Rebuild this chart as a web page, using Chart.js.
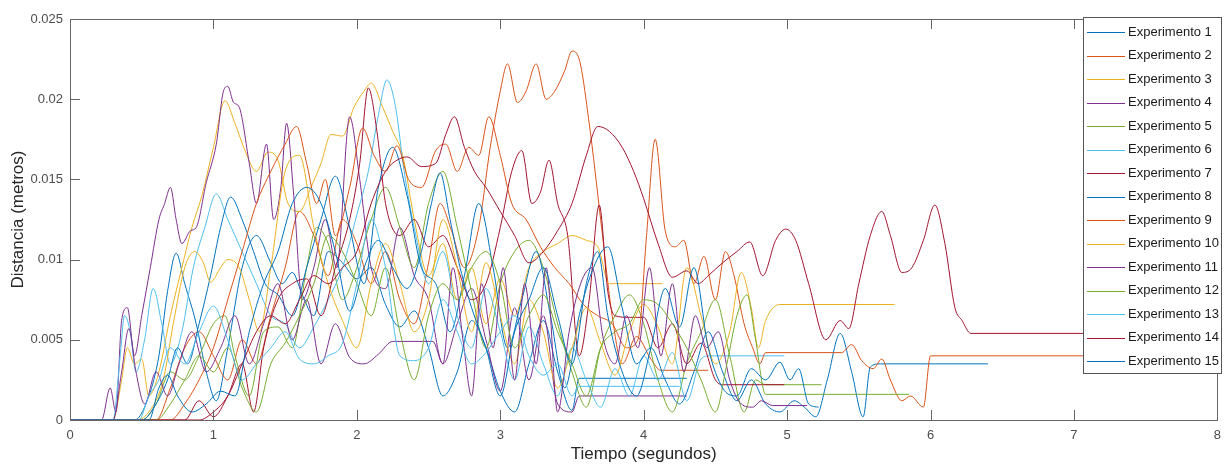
<!DOCTYPE html>
<html>
<head>
<meta charset="utf-8">
<script src="https://cdn.jsdelivr.net/npm/chart.js@4.4.0/dist/chart.umd.min.js"></script>
<style>
  html, body { margin: 0; padding: 0; background: #fff; }
  #wrap { width: 1229px; height: 467px; }
</style>
</head>
<body>
<div id="wrap"><canvas id="myChart" width="1229" height="467"></canvas></div>
<script>
// datos (tiempo en s, distancia en m)
const tiempo1 = [0, 0.45, 0.55, 0.62, 0.68, 0.74, 0.8, 0.88, 0.95, 1.02, 1.1, 1.2, 1.3, 1.4, 1.48, 1.55, 1.62, 1.7, 1.8, 1.9, 2.0, 2.1, 2.2, 2.3, 2.4, 2.5, 2.6, 2.7, 2.8, 2.9, 3.0, 3.1, 3.2, 3.3, 3.4, 3.5, 3.55, 4.3];
const dist1 = [0, 0, 0.0015, 0.004, 0.008, 0.0104, 0.0085, 0.006, 0.003, 0.0012, 0.0045, 0.0095, 0.0115, 0.0098, 0.0085, 0.0092, 0.0078, 0.0065, 0.0105, 0.0098, 0.0088, 0.0095, 0.0072, 0.0058, 0.0068, 0.0045, 0.0015, 0.003, 0.0062, 0.0045, 0.0018, 0.0005, 0.0035, 0.0062, 0.003, 0.0006, 0.0026, 0.0026];

const tiempo2 = [0, 0.6, 0.7, 0.8, 0.9, 1.0, 1.1, 1.2, 1.3, 1.4, 1.5, 1.6, 1.7, 1.8, 1.9, 2.0, 2.1, 2.2, 2.3, 2.4, 2.5, 2.58, 2.66, 2.75, 2.85, 2.93, 3.0, 3.05, 3.12, 3.18, 3.25, 3.32, 3.38, 3.45, 3.5, 3.55, 3.62, 3.7, 3.78, 3.85, 3.95, 4.05, 4.12, 4.45];
const dist2 = [0, 0, 0.002, 0.0045, 0.0055, 0.004, 0.0025, 0.005, 0.0035, 0.0065, 0.0095, 0.013, 0.0115, 0.009, 0.0125, 0.011, 0.0085, 0.0105, 0.0075, 0.006, 0.0098, 0.0135, 0.0118, 0.0095, 0.012, 0.017, 0.0205, 0.0222, 0.0198, 0.0205, 0.0222, 0.02, 0.0205, 0.0218, 0.023, 0.0225, 0.0185, 0.0125, 0.0065, 0.0035, 0.0052, 0.0038, 0.0031, 0.0031];

const tiempo3 = [0, 0.3, 0.36, 0.4, 0.45, 0.5, 0.55, 0.62, 0.7, 0.78, 0.85, 0.92, 1.0, 1.08, 1.15, 1.22, 1.3, 1.38, 1.45, 1.52, 1.6, 1.68, 1.75, 1.82, 1.9, 1.98, 2.05, 2.1, 2.18, 2.25, 2.32, 2.4, 2.5, 2.6, 2.7, 2.8, 2.9, 3.0, 3.1, 3.2, 3.3, 3.4, 3.5, 3.6, 3.68, 3.76, 4.13];
const dist3 = [0, 0, 0.0025, 0.0045, 0.0035, 0.0038, 0.0015, 0.003, 0.0065, 0.0095, 0.012, 0.014, 0.017, 0.0199, 0.0185, 0.0168, 0.0155, 0.0167, 0.0162, 0.0135, 0.013, 0.0145, 0.016, 0.0178, 0.0177, 0.0195, 0.0205, 0.021, 0.0195, 0.018, 0.0165, 0.0125, 0.009, 0.011, 0.0075, 0.0095, 0.006, 0.0088, 0.0065, 0.0095, 0.0105, 0.011, 0.0115, 0.0112, 0.0108, 0.0085, 0.0085];

const tiempo4 = [0, 0.22, 0.28, 0.32, 0.36, 0.4, 0.45, 0.5, 0.56, 0.62, 0.66, 0.7, 0.74, 0.78, 0.84, 0.88, 0.95, 1.02, 1.07, 1.1, 1.14, 1.18, 1.25, 1.3, 1.37, 1.42, 1.47, 1.51, 1.56, 1.62, 1.7, 1.78, 1.86, 1.95, 2.02, 2.1, 2.2, 2.3, 2.4, 2.5, 2.6, 2.7, 2.8, 2.9, 3.0, 3.1, 3.2, 3.3, 3.4, 3.5, 3.55, 4.3];
const dist4 = [0, 0, 0.002, 0.0005, 0.0062, 0.007, 0.004, 0.0065, 0.0095, 0.0125, 0.0135, 0.0145, 0.0125, 0.011, 0.0118, 0.012, 0.0148, 0.0172, 0.0205, 0.0208, 0.0198, 0.0195, 0.016, 0.0135, 0.0172, 0.0125, 0.0145, 0.0185, 0.014, 0.0075, 0.0095, 0.0125, 0.0095, 0.0189, 0.015, 0.0095, 0.0082, 0.012, 0.009, 0.0075, 0.0035, 0.006, 0.0082, 0.005, 0.0018, 0.007, 0.0025, 0.0065, 0.001, 0.0005, 0.0015, 0.0015];

const tiempo5 = [0, 0.5, 0.6, 0.7, 0.8, 0.9, 1.0, 1.08, 1.15, 1.25, 1.35, 1.45, 1.55, 1.65, 1.72, 1.8, 1.9, 2.0, 2.1, 2.2, 2.3, 2.4, 2.5, 2.6, 2.7, 2.8, 2.9, 3.0, 3.1, 3.2, 3.3, 3.4, 3.5, 3.6, 3.7, 3.8, 3.9, 4.0, 4.1, 4.2, 4.3, 4.4, 4.5, 4.6, 4.7, 4.78, 4.85, 5.24];
const dist5 = [0, 0, 0.001, 0.003, 0.0025, 0.004, 0.006, 0.0065, 0.004, 0.0015, 0.0055, 0.0058, 0.0045, 0.0095, 0.012, 0.011, 0.0075, 0.0095, 0.0125, 0.0145, 0.012, 0.0095, 0.0135, 0.0155, 0.012, 0.008, 0.0045, 0.0085, 0.0105, 0.0112, 0.0095, 0.006, 0.003, 0.0008, 0.0045, 0.0065, 0.0078, 0.006, 0.0025, 0.0005, 0.0035, 0.0055, 0.0075, 0.004, 0.0005, 0.0025, 0.0022, 0.0022];

const tiempo6 = [0, 0.3, 0.35, 0.38, 0.42, 0.46, 0.52, 0.58, 0.64, 0.7, 0.78, 0.86, 0.94, 1.02, 1.1, 1.2, 1.3, 1.4, 1.5, 1.6, 1.7, 1.8, 1.9, 2.0, 2.08, 2.15, 2.21, 2.27, 2.33, 2.4, 2.5, 2.6, 2.7, 2.8, 2.9, 3.0, 3.1, 3.2, 3.3, 3.4, 3.5, 3.6, 3.7, 3.8, 3.9, 4.0, 4.1, 4.2, 4.3, 4.4, 4.46, 4.98];
const dist6 = [0, 0, 0.004, 0.0065, 0.0055, 0.003, 0.005, 0.0082, 0.006, 0.0035, 0.0055, 0.0095, 0.012, 0.0141, 0.0125, 0.0105, 0.0085, 0.0065, 0.006, 0.0045, 0.0058, 0.0075, 0.0095, 0.0128, 0.0155, 0.019, 0.0212, 0.0195, 0.0155, 0.012, 0.0085, 0.0105, 0.0065, 0.0045, 0.0082, 0.0055, 0.0025, 0.0058, 0.0035, 0.0015, 0.0045, 0.0025, 0.0008, 0.0032, 0.0015, 0.004, 0.0025, 0.0042, 0.0012, 0.0038, 0.004, 0.004];

const tiempo7 = [0, 0.8, 0.9, 1.0, 1.1, 1.2, 1.28, 1.35, 1.45, 1.55, 1.65, 1.75, 1.85, 1.95, 2.02, 2.08, 2.14, 2.2, 2.3, 2.4, 2.5, 2.6, 2.7, 2.8, 2.9, 3.0, 3.08, 3.15, 3.22, 3.28, 3.34, 3.4, 3.47, 3.55, 3.62, 3.69, 3.75, 3.8, 3.9, 4.0, 4.1, 4.2, 4.3, 4.4, 4.5, 4.55, 4.98];
const dist7 = [0, 0, 0.0012, 0.0002, 0.0015, 0.0035, 0.0005, 0.0045, 0.0075, 0.0085, 0.0088, 0.0065, 0.0095, 0.0125, 0.016, 0.0207, 0.018, 0.0135, 0.0115, 0.0125, 0.0108, 0.0115, 0.0095, 0.0075, 0.0085, 0.012, 0.0155, 0.0168, 0.0135, 0.0142, 0.0162, 0.0135, 0.0115, 0.004, 0.0075, 0.0134, 0.008, 0.0065, 0.0064, 0.0064, 0.0045, 0.006, 0.0035, 0.0048, 0.0025, 0.0022, 0.0022];

const tiempo8 = [0, 0.5, 0.6, 0.68, 0.75, 0.82, 0.9, 0.98, 1.05, 1.12, 1.2, 1.28, 1.36, 1.45, 1.55, 1.65, 1.75, 1.85, 1.95, 2.05, 2.15, 2.25, 2.35, 2.45, 2.55, 2.65, 2.75, 2.85, 2.95, 3.05, 3.15, 3.25, 3.35, 3.45, 3.55, 3.65, 3.75, 3.85, 3.95, 4.05, 4.15, 4.25, 4.35, 4.45, 4.55, 4.65, 4.75, 4.85, 4.95, 5.05, 5.12, 5.2, 5.28, 5.37, 5.45, 5.53, 5.58, 5.65, 6.4];
const dist8 = [0, 0, 0.001, 0.0025, 0.0045, 0.0035, 0.006, 0.009, 0.012, 0.0139, 0.0125, 0.0105, 0.0085, 0.0078, 0.0065, 0.0095, 0.0125, 0.0152, 0.012, 0.0085, 0.0145, 0.017, 0.014, 0.0095, 0.0085, 0.0055, 0.009, 0.0135, 0.0095, 0.0045, 0.0075, 0.0105, 0.0065, 0.002, 0.0065, 0.0095, 0.0108, 0.007, 0.0035, 0.0045, 0.0025, 0.001, 0.003, 0.0055, 0.003, 0.0012, 0.0025, 0.001, 0.0005, 0.0012, 0.0008, 0.0002, 0.0025, 0.0054, 0.003, 0.0002, 0.0033, 0.0035, 0.0035];

const tiempo9 = [0, 0.7, 0.8, 0.9, 1.0, 1.1, 1.2, 1.3, 1.4, 1.5, 1.58, 1.65, 1.72, 1.78, 1.85, 1.95, 2.04, 2.12, 2.2, 2.28, 2.36, 2.45, 2.55, 2.62, 2.7, 2.78, 2.85, 2.92, 3.0, 3.08, 3.18, 3.28, 3.38, 3.48, 3.58, 3.68, 3.78, 3.88, 3.96, 4.02, 4.08, 4.15, 4.22, 4.28, 4.35, 4.42, 4.5, 4.57, 4.63, 4.7, 4.76, 4.81, 4.85, 5.38, 5.45, 5.52, 5.6, 5.66, 5.72, 5.8, 5.86, 5.95, 6.0, 8.0];
const dist9 = [0, 0, 0.001, 0.0025, 0.0045, 0.0075, 0.0105, 0.0135, 0.0155, 0.0172, 0.0183, 0.016, 0.0135, 0.015, 0.0115, 0.0145, 0.0182, 0.0165, 0.0155, 0.0171, 0.015, 0.0145, 0.0168, 0.0172, 0.0155, 0.017, 0.0165, 0.0189, 0.0165, 0.0135, 0.0125, 0.0108, 0.0095, 0.0085, 0.0072, 0.0065, 0.006, 0.0045, 0.005, 0.0115, 0.0175, 0.0118, 0.0108, 0.0112, 0.0085, 0.0102, 0.0075, 0.0105, 0.009, 0.006, 0.0045, 0.0035, 0.0042, 0.0042, 0.0047, 0.0037, 0.0032, 0.0038, 0.0025, 0.0012, 0.0015, 0.0008, 0.004, 0.004];

const tiempo10 = [0, 0.45, 0.55, 0.65, 0.72, 0.8, 0.87, 0.93, 0.98, 1.05, 1.1, 1.18, 1.25, 1.32, 1.4, 1.5, 1.6, 1.7, 1.8, 1.9, 2.0, 2.1, 2.2, 2.3, 2.4, 2.5, 2.6, 2.7, 2.8, 2.9, 3.0, 3.1, 3.2, 3.3, 3.4, 3.5, 3.6, 3.7, 3.8, 3.9, 4.0, 4.1, 4.2, 4.3, 4.4, 4.5, 4.6, 4.68, 4.75, 4.8, 4.85, 4.95, 5.75];
const dist10 = [0, 0, 0.0005, 0.0025, 0.006, 0.0095, 0.0105, 0.0098, 0.0086, 0.0095, 0.01, 0.0095, 0.0075, 0.0055, 0.0095, 0.0155, 0.0165, 0.012, 0.0085, 0.0062, 0.0045, 0.0085, 0.011, 0.0085, 0.0055, 0.0075, 0.0125, 0.0095, 0.0055, 0.0098, 0.0065, 0.0035, 0.0075, 0.0055, 0.002, 0.0045, 0.007, 0.0048, 0.0028, 0.0055, 0.0072, 0.0058, 0.0035, 0.0095, 0.0065, 0.0035, 0.0055, 0.0092, 0.007, 0.0045, 0.0062, 0.0072, 0.0072];

const tiempo11 = [0, 0.3, 0.36, 0.41, 0.46, 0.52, 0.6, 0.68, 0.76, 0.85, 0.95, 1.05, 1.15, 1.25, 1.35, 1.45, 1.55, 1.65, 1.75, 1.85, 1.95, 2.05, 2.15, 2.25, 2.53, 2.6, 2.67, 2.74, 2.8, 2.87, 2.95, 3.02, 3.1, 3.17, 3.25, 3.32, 3.4, 3.48, 3.56, 3.64, 3.72, 3.8, 3.88, 3.96, 4.04, 4.12, 4.2, 4.28, 4.36, 4.44, 4.52, 4.6, 4.68, 4.76, 4.82, 4.9, 5.14];
const dist11 = [0, 0, 0.003, 0.0057, 0.003, 0.001, 0.003, 0.0015, 0.0035, 0.0055, 0.003, 0.0045, 0.0065, 0.0035, 0.006, 0.0085, 0.005, 0.0075, 0.0035, 0.006, 0.0039, 0.0035, 0.0041, 0.0049, 0.0049, 0.0035, 0.0095, 0.005, 0.0015, 0.0085, 0.0045, 0.0095, 0.0025, 0.0085, 0.0035, 0.0095, 0.0005, 0.0055, 0.0085, 0.0095, 0.005, 0.0035, 0.0065, 0.0045, 0.0095, 0.004, 0.0085, 0.003, 0.0065, 0.0045, 0.0055, 0.0025, 0.001, 0.0008, 0.0012, 0.0009, 0.0009];

const tiempo12 = [0, 0.6, 0.7, 0.8, 0.9, 1.0, 1.1, 1.2, 1.3, 1.4, 1.5, 1.6, 1.7, 1.8, 1.9, 2.0, 2.1, 2.2, 2.3, 2.4, 2.5, 2.6, 2.7, 2.8, 2.9, 3.0, 3.1, 3.2, 3.3, 3.4, 3.5, 3.6, 3.7, 3.8, 3.9, 4.0, 4.1, 4.2, 4.3, 4.4, 4.5, 4.58, 4.65, 4.72, 4.78, 4.85, 5.85];
const dist12 = [0, 0, 0.001, 0.0025, 0.004, 0.003, 0.0045, 0.002, 0.0005, 0.0035, 0.0048, 0.0065, 0.0085, 0.0115, 0.0105, 0.0085, 0.0065, 0.0095, 0.0055, 0.0025, 0.0065, 0.0085, 0.0075, 0.0095, 0.0105, 0.0085, 0.0045, 0.0065, 0.0078, 0.0055, 0.0035, 0.0015, 0.0045, 0.0055, 0.006, 0.0075, 0.0072, 0.006, 0.0045, 0.0025, 0.0005, 0.0035, 0.0065, 0.0078, 0.005, 0.0016, 0.0016];

const tiempo13 = [0, 0.48, 0.55, 0.62, 0.7, 0.8, 0.9, 1.0, 1.1, 1.2, 1.3, 1.4, 1.5, 1.6, 1.7, 1.8, 1.9, 2.0, 2.1, 2.2, 2.3, 2.4, 2.5, 2.6, 2.7, 2.8, 2.9, 3.0, 3.1, 3.2, 3.3, 3.4, 3.5, 3.55, 4.25];
const dist13 = [0, 0, 0.0015, 0.0025, 0.0045, 0.0035, 0.0055, 0.0071, 0.005, 0.0025, 0.0035, 0.0045, 0.0055, 0.0038, 0.0035, 0.004, 0.0048, 0.0085, 0.0125, 0.0095, 0.004, 0.0037, 0.0045, 0.0075, 0.0055, 0.0035, 0.0042, 0.0055, 0.0065, 0.004, 0.0028, 0.0035, 0.0015, 0.0021, 0.0021];

const tiempo14 = [0, 0.9, 1.0, 1.1, 1.2, 1.3, 1.4, 1.5, 1.6, 1.7, 1.8, 1.9, 2.0, 2.1, 2.2, 2.28, 2.35, 2.45, 2.55, 2.62, 2.68, 2.75, 2.82, 2.9, 3.0, 3.1, 3.2, 3.3, 3.4, 3.5, 3.6, 3.68, 3.76, 3.85, 3.93, 4.0, 4.1, 4.2, 4.3, 4.38, 4.45, 4.55, 4.65, 4.74, 4.83, 4.92, 4.99, 5.06, 5.15, 5.27, 5.37, 5.43, 5.5, 5.58, 5.66, 5.72, 5.8, 5.87, 5.95, 6.03, 6.1, 6.17, 6.22, 6.28, 8.0];
const dist14 = [0, 0, 0.0005, 0.0015, 0.0035, 0.0055, 0.0065, 0.006, 0.0075, 0.009, 0.0085, 0.0095, 0.0105, 0.0135, 0.0155, 0.0162, 0.0164, 0.0158, 0.016, 0.0178, 0.0189, 0.017, 0.0155, 0.0145, 0.013, 0.0115, 0.0098, 0.0105, 0.0118, 0.0135, 0.0165, 0.0183, 0.018, 0.017, 0.0155, 0.0138, 0.011, 0.0089, 0.0093, 0.0085, 0.009, 0.0098, 0.0105, 0.0111, 0.009, 0.0112, 0.0119, 0.0112, 0.0085, 0.005, 0.0062, 0.0057, 0.0085, 0.0115, 0.013, 0.0115, 0.0092, 0.0095, 0.0112, 0.0134, 0.011, 0.007, 0.0062, 0.0054, 0.0054];

const tiempo15 = [0, 0.55, 0.62, 0.68, 0.75, 0.85, 0.95, 1.05, 1.15, 1.25, 1.35, 1.45, 1.55, 1.65, 1.75, 1.85, 1.95, 2.05, 2.15, 2.25, 2.35, 2.45, 2.52, 2.58, 2.65, 2.72, 2.8, 2.9, 3.0, 3.1, 3.2, 3.3, 3.4, 3.5, 3.6, 3.68, 3.75, 3.85, 3.95, 4.05, 4.15, 4.25, 4.35, 4.45, 4.55, 4.65, 4.75, 4.85, 4.95, 5.02, 5.08, 5.15, 5.22];
const dist15 = [0, 0, 0.002, 0.0028, 0.0015, 0.0005, 0.001, 0.0018, 0.0015, 0.0055, 0.0085, 0.0105, 0.0135, 0.0145, 0.0135, 0.0105, 0.0068, 0.0095, 0.0112, 0.0095, 0.0082, 0.0105, 0.0135, 0.0154, 0.0125, 0.0095, 0.007, 0.0045, 0.0015, 0.0055, 0.0075, 0.0095, 0.0065, 0.0035, 0.0085, 0.0105, 0.0065, 0.003, 0.0015, 0.0045, 0.0082, 0.0058, 0.0095, 0.0045, 0.002, 0.0015, 0.0032, 0.0025, 0.0036, 0.0025, 0.0032, 0.001, 0.0008];

const tiempos = [tiempo1, tiempo2, tiempo3, tiempo4, tiempo5, tiempo6, tiempo7, tiempo8, tiempo9, tiempo10, tiempo11, tiempo12, tiempo13, tiempo14, tiempo15];
const distancias = [dist1, dist2, dist3, dist4, dist5, dist6, dist7, dist8, dist9, dist10, dist11, dist12, dist13, dist14, dist15];
const etiquetas = tiempos.map((t, i) => 'Experimento ' + (i + 1));

// colores por defecto de matlab
const colores = ['#0072BD', '#D95319', '#EDB120', '#7E2F8E', '#77AC30', '#4DBEEE', '#A2142F'];

const xTicks = [0, 1, 2, 3, 4, 5, 6, 7, 8];
const yTicks = [0, 0.005, 0.01, 0.015, 0.02, 0.025];

Chart.defaults.font.family = "'Liberation Sans', Arial, sans-serif";

let data = {
  datasets: tiempos.map((t, i) => ({
    label: etiquetas[i],
    data: t.map((x, k) => ({ x: x, y: distancias[i][k] })),
    borderColor: colores[i % colores.length],
    backgroundColor: colores[i % colores.length],
    borderWidth: 1,
    pointRadius: 0,
    cubicInterpolationMode: 'monotone',
    order: 14 - i
  }))
};

// caja, marcas hacia dentro y leyenda estilo matlab
const marcoPlugin = {
  id: 'marco',
  afterDatasetsDraw(chart) {
    const ctx = chart.ctx;
    const a = chart.chartArea;
    const sx = chart.scales.x;
    const sy = chart.scales.y;
    ctx.save();
    ctx.strokeStyle = '#666';
    ctx.lineWidth = 1;
    ctx.beginPath();
    xTicks.forEach(v => {
      const px = Math.round(sx.getPixelForValue(v)) + 0.5;
      ctx.moveTo(px, a.bottom); ctx.lineTo(px, a.bottom - 10);
      ctx.moveTo(px, a.top); ctx.lineTo(px, a.top + 10);
    });
    yTicks.forEach(v => {
      const py = Math.round(sy.getPixelForValue(v)) + 0.5;
      ctx.moveTo(a.left, py); ctx.lineTo(a.left + 10, py);
      ctx.moveTo(a.right, py); ctx.lineTo(a.right - 10, py);
    });
    ctx.stroke();
    ctx.strokeRect(Math.round(a.left) + 0.5, Math.round(a.top) + 0.5, Math.round(a.right - a.left), Math.round(a.bottom - a.top));

    // leyenda
    const lx = 1083, ly = 17, lw = 138, lh = 356;
    ctx.fillStyle = '#fff';
    ctx.fillRect(lx, ly, lw, lh);
    ctx.strokeStyle = '#555';
    ctx.strokeRect(lx + 0.5, ly + 0.5, lw, lh);
    ctx.font = "13px 'Liberation Sans', Arial, sans-serif";
    ctx.textBaseline = 'middle';
    ctx.textAlign = 'left';
    chart.data.datasets.forEach((ds, i) => {
      const yy = 32 + i * 23.5;
      ctx.strokeStyle = ds.borderColor;
      ctx.beginPath();
      ctx.moveTo(lx + 4, Math.round(yy) + 0.5);
      ctx.lineTo(lx + 42, Math.round(yy) + 0.5);
      ctx.stroke();
      ctx.fillStyle = '#1a1a1a';
      ctx.fillText(ds.label, lx + 45, yy);
    });
    ctx.restore();
  }
};

const config = {
  type: 'line',
  data: data,
  options: {
    responsive: false,
    animation: false,
    layout: { padding: { top: 19, right: 7, left: 0, bottom: 0 } },
    plugins: {
      legend: { display: false },
      tooltip: { enabled: false }
    },
    scales: {
      x: {
        type: 'linear',
        min: 0,
        max: 8,
        afterBuildTicks: s => { s.ticks = xTicks.map(v => ({ value: v })); },
        ticks: {
          color: '#4d4d4d',
          font: { size: 13 },
          padding: 8,
          maxRotation: 0,
          callback: v => String(v)
        },
        grid: { display: false, drawTicks: false },
        border: { display: false },
        title: {
          display: true,
          text: 'Tiempo (segundos)',
          color: '#262626',
          font: { size: 17 },
          padding: { top: 0, bottom: 2 }
        },
        afterFit: s => { s.height = 47; }
      },
      y: {
        type: 'linear',
        min: 0,
        max: 0.025,
        afterBuildTicks: s => { s.ticks = yTicks.map(v => ({ value: v })); },
        ticks: {
          color: '#4d4d4d',
          font: { size: 13 },
          padding: 7,
          callback: v => String(+v.toFixed(3))
        },
        grid: { display: false, drawTicks: false },
        border: { display: false },
        title: {
          display: true,
          text: 'Distancia (metros)',
          color: '#262626',
          font: { size: 17 },
          padding: { top: 8, bottom: 0 }
        },
        afterFit: s => { s.width = 70; }
      }
    }
  },
  plugins: [marcoPlugin]
};

const ctx = document.getElementById('myChart').getContext('2d');
let myChart = new Chart(ctx, config);
</script>
</body>
</html>
